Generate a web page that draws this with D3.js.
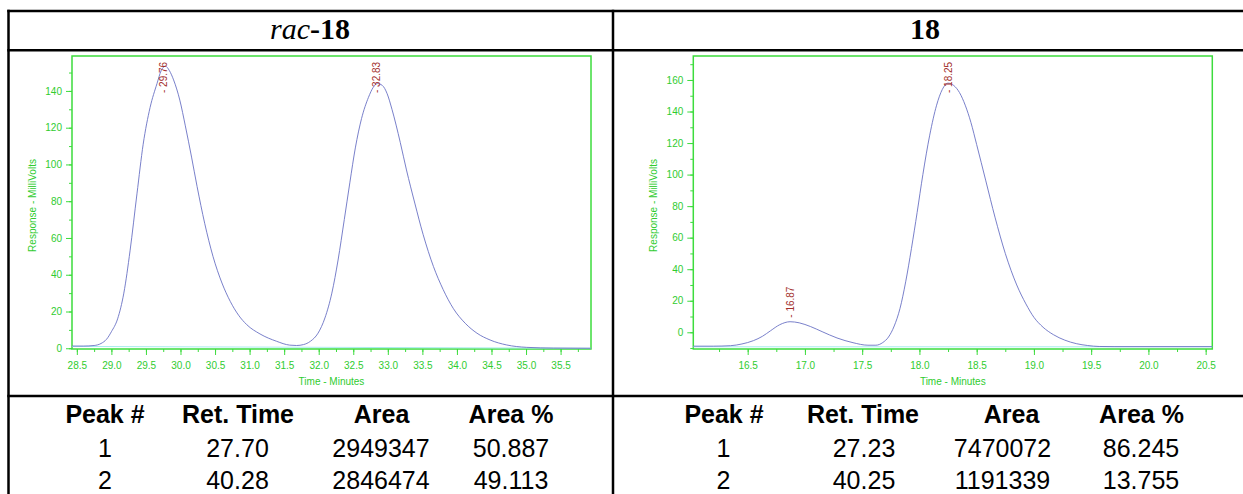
<!DOCTYPE html>
<html>
<head>
<meta charset="utf-8">
<script src="https://cdn.jsdelivr.net/npm/d3@7"></script>
<style>
  html, body { margin: 0; padding: 0; background: #fff; }
  svg { display: block; }
</style>
</head>
<body>
<svg id="chart" width="1243" height="494"></svg>
<script>
// ---------------- DATA ----------------
const panelTitles = ["rac-18", "18"];

// rac-18 chromatogram (time in minutes, response in mV)
const racTime   = [28.43, 28.60, 28.75, 28.85, 28.93, 29.00, 29.09, 29.18, 29.27, 29.37, 29.46, 29.56, 29.66, 29.72, 29.78, 29.84, 29.90, 29.99, 30.07, 30.16, 30.24, 30.35, 30.47, 30.60, 30.72, 30.84, 30.96, 31.15, 31.39, 31.58, 31.68, 31.78, 31.88, 31.99, 32.09, 32.19, 32.28, 32.37, 32.45, 32.53, 32.62, 32.72, 32.79, 32.85, 32.92, 32.99, 33.06, 33.18, 33.27, 33.39, 33.51, 33.66, 33.80, 33.95, 34.12, 34.29, 34.48, 34.72, 35.01, 35.40, 35.94];
const racSignal = [1.2, 1.2, 1.5, 2.6, 4.9, 9, 16, 30, 53, 84, 111, 131, 144, 151, 153.5, 151, 146, 135, 121, 104, 88, 68, 50, 35.5, 25.5, 18, 12.8, 7.8, 3.8, 1.7, 1.5, 2.0, 3.8, 8.2, 16.5, 30, 48, 70, 90, 109, 125, 136.5, 142, 144, 143, 138.5, 130, 112, 97, 79, 62, 44.5, 32, 21.5, 13.6, 8.2, 4.5, 1.8, 0.5, 0.1, 0];
const racBaseTime   = [28.43, 35.94];
const racBaseSignal = [1.0, 0.0];
const racPeakTimes  = [29.76, 32.83];
const racPeakSignal = [153.5, 144];
const racXDomain = [28.43, 35.94];
const racYDomain = [-0.4, 159];
const racXTicks = [28.5, 29.0, 29.5, 30.0, 30.5, 31.0, 31.5, 32.0, 32.5, 33.0, 33.5, 34.0, 34.5, 35.0, 35.5];
const racYTicks = [0, 20, 40, 60, 80, 100, 120, 140];

// 18 chromatogram
const entTime   = [16.025, 16.20, 16.35, 16.45, 16.55, 16.63, 16.70, 16.78, 16.87, 16.95, 17.05, 17.15, 17.28, 17.42, 17.55, 17.62, 17.68, 17.73, 17.78, 17.83, 17.88, 17.93, 17.98, 18.03, 18.09, 18.15, 18.20, 18.25, 18.30, 18.35, 18.40, 18.45, 18.50, 18.58, 18.66, 18.75, 18.85, 18.93, 19.00, 19.08, 19.17, 19.27, 19.37, 19.47, 19.57, 19.70, 20.558];
const entSignal = [-8.8, -8.8, -8.5, -7.4, -5.3, -2.5, 1, 4.8, 6.7, 6.0, 3.6, 0.4, -3.6, -6.6, -8.2, -8.2, -6.5, -3, 4, 15, 32, 53, 76, 100, 125, 144, 154, 158, 156.5, 152, 144, 133, 119, 96, 73, 50, 30, 18, 9.5, 3.2, -1.5, -5.0, -7.2, -8.4, -9.0, -9.1, -9.1];
const entBaseTime   = [16.025, 20.558];
const entBaseSignal = [-9.2, -9.2];
const entPeakTimes  = [16.87, 18.25];
const entPeakSignal = [6.7, 158];
const entXDomain = [16.025, 20.558];
const entYDomain = [-10.6, 175.2];
const entXTicks = [16.5, 17.0, 17.5, 18.0, 18.5, 19.0, 19.5, 20.0, 20.5];
const entYTicks = [0, 20, 40, 60, 80, 100, 120, 140, 160];

// Peak tables
const tableHeaders = ["Peak #", "Ret. Time", "Area", "Area %"];
const racPeakNo   = ["1", "2"];
const racRetTime  = ["27.70", "40.28"];
const racArea     = ["2949347", "2846474"];
const racAreaPct  = ["50.887", "49.113"];
const entPeakNo   = ["1", "2"];
const entRetTime  = ["27.23", "40.25"];
const entArea     = ["7470072", "1191339"];
const entAreaPct  = ["86.245", "13.755"];

// ---------------- LAYOUT ----------------
const svg = d3.select("#chart");
const GREEN_TXT = "#2fcc2f";
const GREEN_LN = "#3ddc3d";
const CURVE = "#6a72c4";
const LABEL_RED = "#a3302c";
const FONT = "'Liberation Sans', Arial, sans-serif";

// table grid lines
const grid = svg.append("g").attr("stroke", "#000").attr("stroke-width", 2.5);
[11, 50.3, 396].forEach(y => grid.append("line").attr("x1", 7.3).attr("x2", 1243).attr("y1", y).attr("y2", y));
[8.5, 613].forEach(x => grid.append("line").attr("x1", x).attr("x2", x).attr("y1", 9.8).attr("y2", 494));

// titles
const titleX = [310, 925];
const t0 = svg.append("text").attr("x", titleX[0]).attr("y", 38.5).attr("text-anchor", "middle")
  .attr("font-family", "'Liberation Serif', 'Times New Roman', serif").attr("font-size", 30);
t0.append("tspan").attr("font-style", "italic").text(panelTitles[0].split("-")[0]);
t0.append("tspan").attr("font-weight", "bold").text("-" + panelTitles[0].split("-")[1]);
svg.append("text").attr("x", titleX[1]).attr("y", 38.5).attr("text-anchor", "middle")
  .attr("font-family", "'Liberation Serif', 'Times New Roman', serif").attr("font-size", 30)
  .attr("font-weight", "bold").text(panelTitles[1]);

function drawChart(opt) {
  const { left, right, top, bottom } = opt.box;
  const x = d3.scaleLinear().domain(opt.xDomain).range([left, right]);
  const y = d3.scaleLinear().domain(opt.yDomain).range([bottom, top]);
  const g = svg.append("g");

  // frame
  g.append("rect").attr("x", left).attr("y", top).attr("width", right - left).attr("height", bottom - top)
    .attr("fill", "none").attr("stroke", GREEN_LN).attr("stroke-width", 1.5);

  // minor ticks
  const xMinor = [];
  for (let v = Math.ceil(opt.xDomain[0] * 4) / 4; v <= opt.xDomain[1] + 1e-9; v += 0.25) xMinor.push(+v.toFixed(2));
  const yMinor = [];
  for (let v = Math.ceil(opt.yDomain[0] / 10) * 10; v <= opt.yDomain[1]; v += 10) yMinor.push(v);

  const xMinorAxis = d3.axisBottom(x).tickValues(xMinor).tickSize(3).tickFormat("");
  const yMinorAxis = d3.axisLeft(y).tickValues(yMinor).tickSize(3).tickFormat("");
  const xAxis = d3.axisBottom(x).tickValues(opt.xTicks).tickSize(6).tickPadding(7).tickFormat(d3.format(".1f"));
  const yAxis = d3.axisLeft(y).tickValues(opt.yTicks).tickSize(6).tickPadding(4).tickFormat(d3.format("d"));

  [[xMinorAxis, "x"], [xAxis, "x"], [yMinorAxis, "y"], [yAxis, "y"]].forEach(([ax, k]) => {
    const a = g.append("g")
      .attr("transform", k === "x" ? `translate(0,${bottom})` : `translate(${left},0)`)
      .call(ax);
    a.select(".domain").remove();
    a.selectAll("line").attr("stroke", GREEN_LN).attr("stroke-width", 1);
    a.selectAll("text").attr("fill", GREEN_TXT).attr("font-family", FONT).attr("font-size", 10);
  });

  // axis titles
  g.append("text").attr("x", (left + right) / 2).attr("y", 385).attr("text-anchor", "middle")
    .attr("fill", GREEN_TXT).attr("font-family", FONT).attr("font-size", 10).text("Time - Minutes");
  g.append("text").attr("transform", `translate(${left - 40},${(top + bottom) / 2 + 3}) rotate(-90)`)
    .attr("text-anchor", "middle").attr("dy", "0.35em")
    .attr("fill", GREEN_TXT).attr("font-family", FONT).attr("font-size", 10).text("Response - MilliVolts");

  // baseline
  const base = opt.baseTime.map((t, i) => [t, opt.baseSignal[i]]);
  g.append("path").datum(base)
    .attr("d", d3.line().x(d => x(d[0])).y(d => y(d[1])))
    .attr("fill", "none").attr("stroke", "#a8ecec").attr("stroke-width", 1);

  // signal
  const pts = opt.time.map((t, i) => [t, opt.signal[i]]);
  g.append("path").datum(pts)
    .attr("d", d3.line().x(d => x(d[0])).y(d => y(d[1])).curve(d3.curveMonotoneX))
    .attr("fill", "none").attr("stroke", CURVE).attr("stroke-width", 0.9);

  // peak labels
  opt.peakTimes.forEach((pt, i) => {
    const py = Math.max(y(opt.peakSignal[i]) - 4, top + 37);
    g.append("text")
      .attr("transform", `translate(${x(pt)},${py}) rotate(-90)`)
      .attr("dy", "0.35em").attr("text-anchor", "start")
      .attr("fill", LABEL_RED).attr("font-family", FONT).attr("font-size", 10)
      .text("- " + pt.toFixed(2));
  });
}

drawChart({
  box: { left: 72, right: 591, top: 56, bottom: 349 },
  xDomain: racXDomain, yDomain: racYDomain, xTicks: racXTicks, yTicks: racYTicks,
  time: racTime, signal: racSignal, baseTime: racBaseTime, baseSignal: racBaseSignal,
  peakTimes: racPeakTimes, peakSignal: racPeakSignal
});
drawChart({
  box: { left: 693.3, right: 1212.3, top: 56, bottom: 349 },
  xDomain: entXDomain, yDomain: entYDomain, xTicks: entXTicks, yTicks: entYTicks,
  time: entTime, signal: entSignal, baseTime: entBaseTime, baseSignal: entBaseSignal,
  peakTimes: entPeakTimes, peakSignal: entPeakSignal
});

// tables
function drawTable(headerX, cellX, cols) {
  const tg = svg.append("g").attr("font-family", FONT).attr("font-size", 25).attr("fill", "#000").attr("text-anchor", "middle");
  tg.selectAll("text.h").data(tableHeaders).join("text").attr("class", "h")
    .attr("x", (d, i) => headerX[i]).attr("y", 422.5).attr("font-weight", "bold").text(d => d);
  const rowY = [456.5, 488.5];
  cols.forEach((col, ci) => {
    tg.selectAll(null).data(col).join("text")
      .attr("x", cellX[ci]).attr("y", (d, ri) => rowY[ri]).text(d => d);
  });
}
drawTable([105, 238, 381.5, 511], [105, 237.5, 381, 511], [racPeakNo, racRetTime, racArea, racAreaPct]);
drawTable([724, 863, 1011.5, 1141.5], [723.5, 864, 1002.5, 1141], [entPeakNo, entRetTime, entArea, entAreaPct]);
</script>
</body>
</html>
